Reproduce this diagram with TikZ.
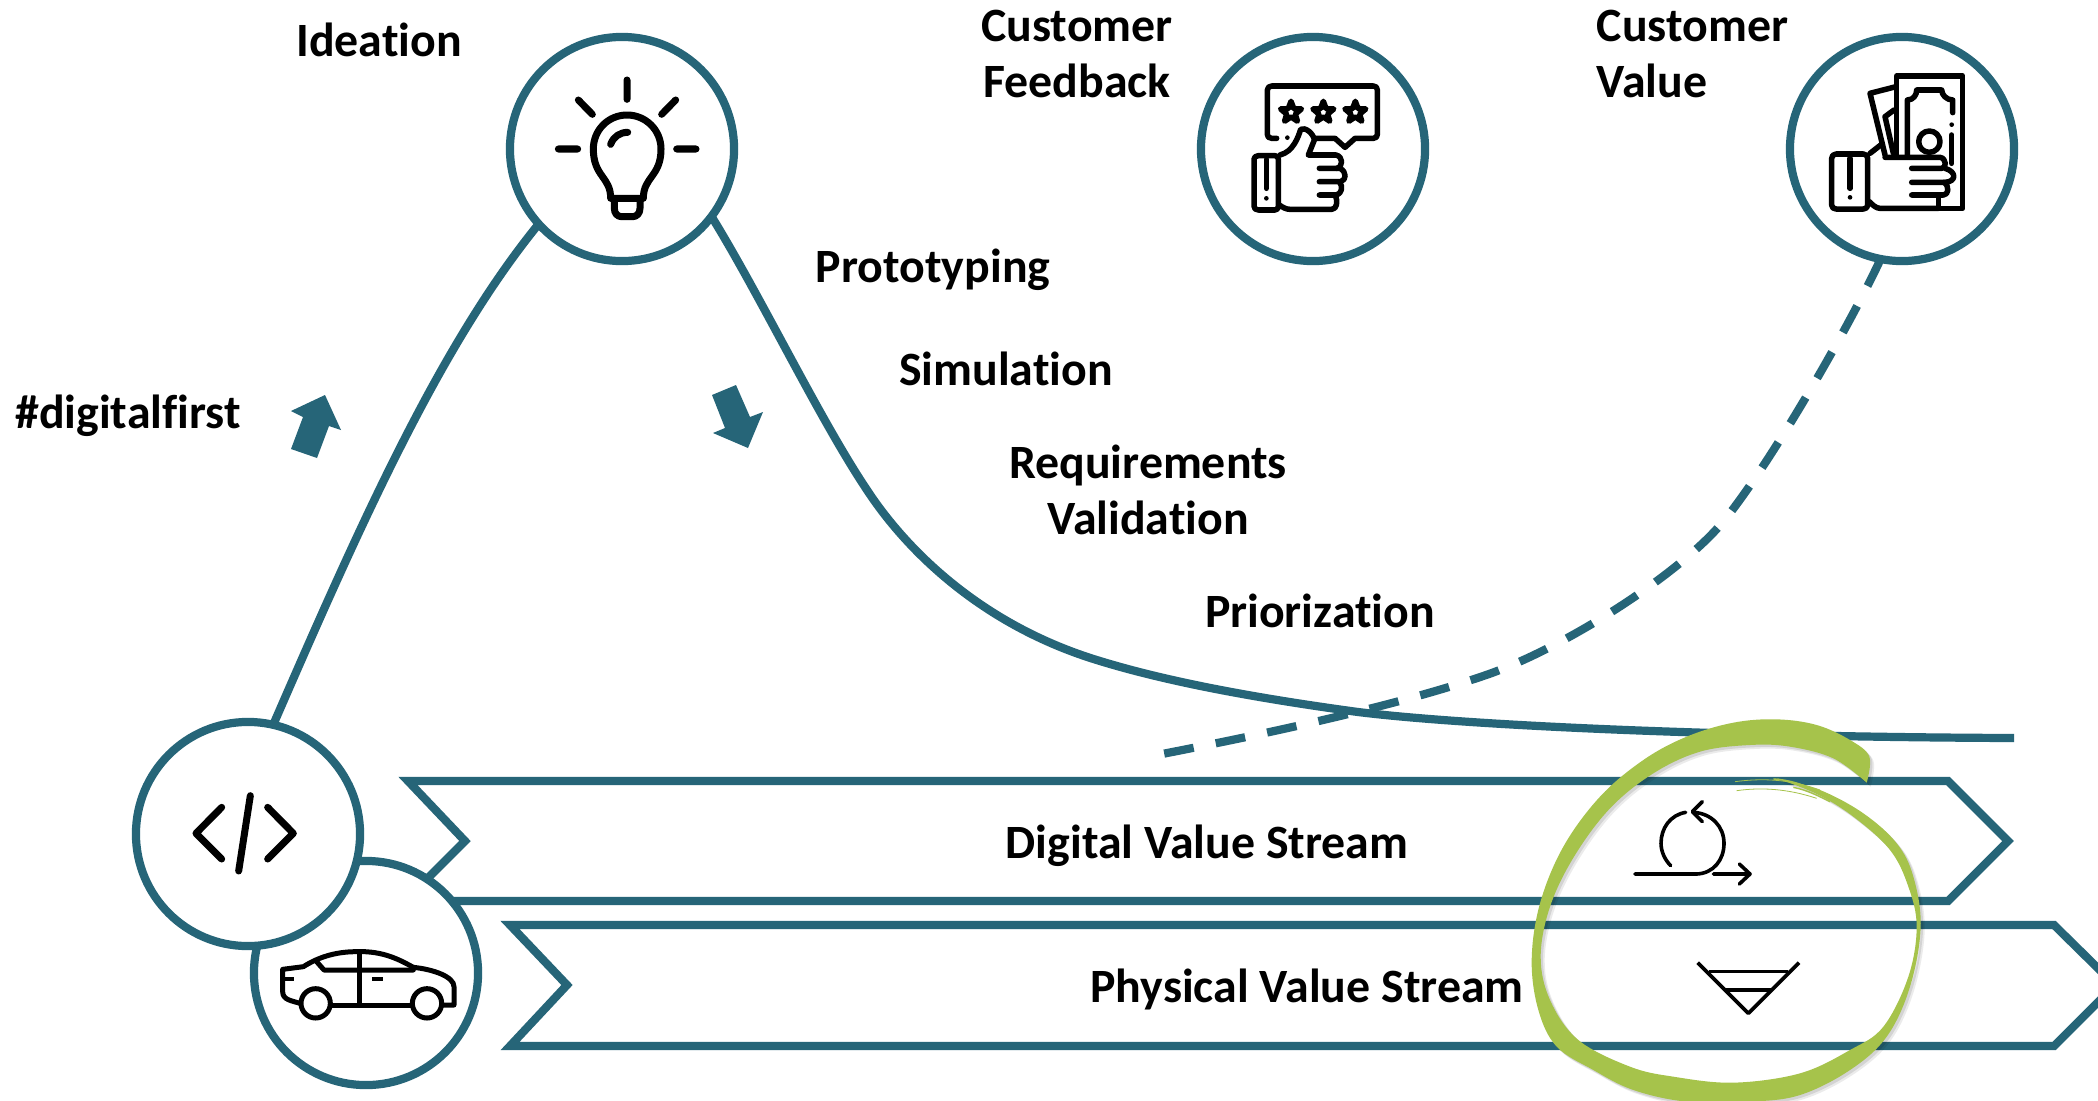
\documentclass[tikz,border=0pt]{standalone}
\usepackage{fontspec}
\setmainfont[Ligatures=NoCommon,RawFeature={-liga}]{Carlito}
\definecolor{teal1}{HTML}{266578}
\definecolor{green1}{HTML}{A6C34B}
\newcommand{\icostar}[2]{\draw[shift={(#1,#2)},scale=.92] (0,-36)--(9,-12)--(34,-11)--(14,6)--(21,29)--(0,15)--(-21,29)--(-14,6)--(-34,-11)--(-9,-12)--cycle;}
\newcommand{\swooshpath}{plot[smooth,tension=.6] coordinates {(1100,248)(1108,170)(1050,120)(950,75)(830,58)(700,68)(560,110)(430,180)(300,290)(190,440)(120,610)(95,780)(115,930)(170,1040)(280,1110)(400,1170)(560,1205)(750,1205)(900,1185)(1050,1110)(1160,1010)(1230,860)(1262,680)(1240,530)(1190,430)(1090,340)(960,270)(830,235)} -- plot[smooth,tension=.6] coordinates {(830,235)(950,282)(1060,350)(1170,450)(1225,560)(1250,680)(1225,830)(1150,980)(1050,1050)(900,1120)(700,1148)(520,1130)(390,1100)(235,1020)(150,900)(122,770)(150,620)(222,470)(330,325)(460,220)(600,155)(750,135)(870,140)(1000,175)(1100,248)} -- cycle}
\tikzset{
  x=0.01cm,y=-0.01cm,
  ring/.style={circle,draw=teal1,fill=white,line width=0.082cm,minimum size=2.24cm,inner sep=0pt,outer sep=0pt},
  flow/.style={draw=teal1,line width=0.082cm},
  stream/.style={draw=teal1,line width=0.082cm,fill=white,miter limit=10},
  lbl/.style={font=\bfseries\fontsize{13.6pt}{15.9pt}\selectfont,align=center,inner sep=0pt,anchor=base},
  ico/.style={draw=black,line cap=round,line join=round,line width=#1},
  ico/.default=0.05cm,
  zoomed/.style={shift={#1},scale=0.33333}
}
\begin{document}
\begin{tikzpicture}
\useasboundingbox (0,0) rectangle (2098,1100);
\clip (0,0) rectangle (2098,1100);
\fill[white] (0,0) rectangle (2098,1100);

% value streams
\draw[stream] (408,781) -- (1948,781) -- (2008,841) -- (1948,901) -- (405,901) -- (465,841) -- cycle;
\draw[stream] (510,925) -- (2054,925) -- (2115,985) -- (2054,1046) -- (510,1046) -- (567,985) -- cycle;

% circles
\node[ring] (bulb) at (622,149) {};
\node[ring] (feedback) at (1313,149) {};
\node[ring] (value) at (1902,149) {};
\node[ring] (car) at (366,973) {};
\node[ring] (code) at (248,834) {};
\coordinate (curveend) at (2014,738);
\coordinate (dashend) at (1162,754);

% connectors
\draw[flow] (code.77) .. controls (360,525) and (440,345) .. (bulb.222);
\draw[flow] (bulb.323) .. controls (760,295) and (820,420) .. (867,490)
  .. controls (905,548) and (980,625) .. (1100,661)
  .. controls (1175,684) and (1270,700) .. (1358,712)
  .. controls (1480,727) and (1750,737) .. (curveend);
\draw[flow,dash pattern=on 0.30cm off 0.225cm] (value.259) .. controls (1850,325) and (1770,465) .. (1722,523)
  .. controls (1680,573) and (1570,645) .. (1489,674)
  .. controls (1400,705) and (1270,733) .. (dashend);

% small arrows
\fill[teal1] (291,411)--(325,395)--(341,430)--(329,426)--(317,458)--(291,449)--(303,417)--cycle;
\fill[teal1] (712,395)--(736,385)--(750,417)--(763,412)--(748,448)--(713,433)--(725,428)--cycle;

% bulb icon
\begin{scope}[zoomed={(480,0)}]
\begin{scope}[ico=0.07cm]
\draw (441,240)--(441,298) (295,300)--(337,343) (587,300)--(545,343) (235,447)--(293,447) (590,447)--(648,447);
\draw (392,595) .. controls (392,530) and (340,530) .. (340,447) .. controls (340,390) and (385,345) .. (441,345) .. controls (497,345) and (543,390) .. (543,447) .. controls (543,530) and (490,530) .. (490,595) -- cycle;
\draw (403,600) -- (403,625) .. controls (403,640) and (412,650) .. (425,650) -- (458,650) .. controls (470,650) and (480,640) .. (480,625) -- (480,600);
\draw (392,433) .. controls (400,410) and (420,397) .. (443,397);
\end{scope}
\end{scope}

% feedback icon
\begin{scope}[zoomed={(1180,20)}]
\begin{scope}[ico=0.055cm]
\draw (290,355) -- (275,355) .. controls (266,355) and (262,350) .. (262,343) -- (262,210) .. controls (262,203) and (268,198) .. (275,198) -- (580,198) .. controls (588,198) and (592,203) .. (592,210) -- (592,343) .. controls (592,350) and (588,355) .. (580,355) -- (525,355) -- (495,382) -- (465,355) -- (405,355);
\fill (322,353) circle (7);
\icostar{333}{277}\icostar{430}{277}\icostar{526}{277}
\draw (235,407) -- (285,407) .. controls (292,407) and (295,412) .. (295,418) -- (295,558) .. controls (295,565) and (292,570) .. (285,570) -- (235,570) .. controls (226,570) and (222,565) .. (222,558) -- (222,418) .. controls (222,412) and (226,407) .. (235,407) -- cycle;
\draw (259,418)--(259,505);
\fill (259,535) circle (7);
\draw (300,405) .. controls (340,395) and (355,350) .. (362,328) .. controls (375,320) and (400,340) .. (403,360) -- (385,405) -- (468,405) .. controls (490,410) and (490,440) .. (470,445) -- (418,445);
\draw (470,445) -- (480,445) .. controls (500,455) and (500,480) .. (482,485) -- (418,485);
\draw (478,485) .. controls (490,500) and (485,520) .. (470,525) -- (418,525);
\draw (465,525) .. controls (475,545) and (470,568) .. (455,568) -- (330,568) .. controls (318,568) and (308,562) .. (298,555);
\end{scope}
\end{scope}

% value icon
\begin{scope}[zoomed={(1770,20)}]
\begin{scope}[ico=0.055cm]
\draw (198,402) -- (280,402) .. controls (288,402) and (293,408) .. (293,415) -- (293,555) .. controls (293,562) and (288,567) .. (280,567) -- (198,567) .. controls (190,567) and (185,562) .. (185,555) -- (185,415) .. controls (185,408) and (190,402) .. (198,402) -- cycle;
\draw (240,415)--(240,505);
\fill (240,532) circle (7);
\draw (380,405) -- (380,168) -- (578,168) -- (578,565) -- (505,565) -- (505,525);
\draw (412,405) -- (412,240) .. controls (430,240) and (440,225) .. (440,210) -- (515,210) .. controls (515,225) and (530,240) .. (548,240) -- (548,278);
\fill (545,314) circle (7);
\draw (545,345) -- (545,430);
\draw (478,365) circle (32);
\draw (345,405) -- (300,220) -- (378,200);
\draw (345,290) -- (370,400) (345,290) -- (372,270);
\draw (300,400) -- (332,375);
\draw (345,412) -- (510,412) .. controls (530,415) and (530,445) .. (515,445) -- (425,445);
\draw (525,445) .. controls (560,455) and (560,485) .. (525,487) -- (425,487);
\draw (522,487) .. controls (540,500) and (535,525) .. (520,525) -- (425,525);
\draw (505,565) -- (330,565) .. controls (318,565) and (308,555) .. (298,545);
\end{scope}
\end{scope}

% code and car icons
\begin{scope}[zoomed={(120,710)}]
\begin{scope}[ico=0.07cm]
\draw (305,292)--(228,370)--(305,447);
\draw (443,292)--(520,370)--(443,447);
\draw (391,257)--(356,483);
\end{scope}
\begin{scope}[ico=0.05cm]
\draw (540,880) .. controls (515,872) and (488,870) .. (488,845) -- (488,778) -- (550,770) .. controls (590,745) and (640,725) .. (710,725) .. controls (790,722) and (840,750) .. (880,772) .. controls (940,778) and (1002,800) .. (1002,830) -- (1002,885) -- (970,885);
\draw (632,885)--(875,885);
\draw (587,880) circle (44);
\draw (921,880) circle (44);
\draw (717,730)--(717,885);
\draw (590,755)--(612,780)--(880,780);
\fill (755,800) rectangle (788,812);
\fill (495,800) rectangle (523,812);
\end{scope}
\end{scope}

% loop and funnel icons
\begin{scope}[zoomed={(1500,700)}]
\begin{scope}[ico=0.036cm]
\draw (405,522) -- (590,522) .. controls (640,520) and (672,480) .. (672,430) .. controls (672,380) and (635,340) .. (580,337);
\draw (557,337) .. controls (510,345) and (483,385) .. (483,430) .. controls (483,455) and (495,480) .. (512,497);
\draw (607,305)--(577,335)--(607,365);
\draw (640,522)--(750,522) (718,492)--(750,522)--(718,552);
\draw[line cap=butt] (593,788)--(745,940)--(897,788);
\draw[line cap=butt] (628,815)--(865,815) (678,870)--(812,870);
\end{scope}
% green highlight
\fill[black,opacity=0.08,shift={(12,12)}] \swooshpath;
\fill[black,opacity=0.10,shift={(7,7)}] \swooshpath;
\fill[green1] \swooshpath;
\draw[green1,line width=0.008cm] (705,245) .. controls (780,235) and (860,235) .. (960,270);
\draw[green1,line width=0.008cm] (710,272) .. controls (780,262) and (860,265) .. (950,295);
\draw[green1,line width=0.014cm] (820,237) .. controls (880,240) and (930,260) .. (1000,300);
\draw[green1,line width=0.014cm] (880,262) .. controls (920,270) and (950,285) .. (990,305);
\end{scope}

% labels
\node[lbl] (tideation) at (379,56) {Ideation};
\node[lbl] (tfeedback) at (1077,97) {Customer\\Feedback};
\node[lbl,align=left,anchor=base west] (tvalue) at (1596,97) {Customer\\Value};
\node[lbl] (tproto) at (933,282) {Prototyping};
\node[lbl] (tsim) at (1006,385) {Simulation};
\node[lbl] (treq) at (1148,534) {Requirements\\Validation};
\node[lbl] (tprio) at (1320,627) {Priorization};
\node[lbl] (thash) at (128,428) {\#digitalfirst};
\node[lbl] (tdig) at (1207,858) {Digital Value Stream};
\node[lbl] (tphy) at (1307,1002) {Physical Value Stream};
\end{tikzpicture}
\end{document}
